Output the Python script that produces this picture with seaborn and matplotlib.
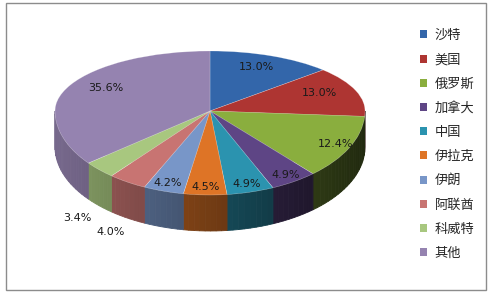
import numpy as np
import matplotlib
matplotlib.use("Agg")
import matplotlib.pyplot as plt
from matplotlib.patches import Rectangle, Polygon
from matplotlib.transforms import Affine2D
import matplotlib.colors as mcolors
import seaborn as sns

# ---- data ----
categories = ["沙特", "美国", "俄罗斯", "加拿大", "中国", "伊拉克", "伊朗", "阿联酋", "科威特", "其他"]
shares = [13.0, 13.0, 12.4, 4.9, 4.9, 4.5, 4.2, 4.0, 3.4, 35.6]
pct_labels = ["13.0%", "13.0%", "12.4%", "4.9%", "4.9%", "4.5%", "4.2%", "4.0%", "3.4%", "35.6%"]
outside = [False, False, False, False, False, False, False, True, True, False]
colors = ["#3366AA", "#AE3532", "#8AAE3E", "#5E4585", "#2B93AF",
          "#DE7426", "#7896C8", "#C87472", "#A8C77F", "#9583B0"]

sns.set_theme(style="white")
plt.rcParams["font.family"] = ["Noto Sans CJK SC", "DejaVu Sans"]
palette = sns.color_palette(colors)

W, H = 490, 295
fig = plt.figure(figsize=(W / 100, H / 100), dpi=100)
ax = fig.add_axes([0, 0, 1, 1])

# geometry (pixel-derived)
cx_px, cy_px, rx_px = 210, 111, 155
k_up, k_down = 60 / rx_px, 84 / rx_px
depth = 36 / rx_px

t_up = Affine2D().scale(1, k_up) + ax.transData
t_dn = Affine2D().scale(1, k_down) + ax.transData

# upper (full) pie
wedges_up, _ = ax.pie(shares, colors=palette, startangle=90, counterclock=False,
                      radius=1, wedgeprops=dict(linewidth=0.4, edgecolor=(1, 1, 1, 0.35)),
                      frame=True)
for w in wedges_up:
    w.set_transform(t_up)
    w.set_zorder(3)
# lower half pie (perspective: front half deeper)
wedges_dn, _ = ax.pie(shares, colors=palette, startangle=90, counterclock=False,
                      radius=1, wedgeprops=dict(linewidth=0.4, edgecolor=(1, 1, 1, 0.35)),
                      frame=True)
clip = Polygon([(-3, 0), (3, 0), (3, -3), (-3, -3)], closed=True, transform=ax.transData)
for w in wedges_dn:
    w.set_transform(t_dn)
    w.set_zorder(4)
    w.set_clip_on(True)
    w.set_clip_path(clip)

ax.set_xlim(-cx_px / rx_px, (W - cx_px) / rx_px)
ax.set_ylim(-(H - cy_px) / rx_px, cy_px / rx_px)
ax.set_aspect("auto")
ax.axis("off")

# side walls (visible front half)
def front_intervals(a, b):
    out = []
    for k in range(-2, 3):
        lo, hi = 180 + 360 * k, 360 + 360 * k
        s, e = max(a, lo), min(b, hi)
        if e > s:
            out.append((s, e))
    return out

for w, col in zip(wedges_up, palette):
    base = np.array(mcolors.to_rgb(col))
    for s, e in front_intervals(w.theta1, w.theta2):
        n = max(2, int((e - s) / 2) + 1)
        ts = np.linspace(s, e, n)
        for t0, t1 in zip(ts[:-1], ts[1:]):
            tm = np.deg2rad((t0 + t1) / 2)
            f = 0.52 - 0.28 * np.cos(tm)
            c = np.clip(base * f, 0, 1)
            a0, a1 = np.deg2rad(t0), np.deg2rad(t1)
            pts = [(np.cos(a0), k_down * np.sin(a0)), (np.cos(a1), k_down * np.sin(a1)),
                   (np.cos(a1), k_down * np.sin(a1) - depth), (np.cos(a0), k_down * np.sin(a0) - depth)]
            ax.add_patch(Polygon(pts, closed=True, facecolor=c, edgecolor=c, linewidth=0.6, zorder=2))

# percentage labels
for w, lab, out in zip(wedges_up, pct_labels, outside):
    th = np.deg2rad((w.theta1 + w.theta2) / 2)
    if out:
        r = 1.2
        x, y = r * np.cos(th), k_down * r * np.sin(th) - depth
    else:
        if np.sin(th) > 0:
            r = 0.75
            x, y = r * np.cos(th), k_up * r * np.sin(th) + 0.02
        else:
            r = 0.9
            x, y = r * np.cos(th), k_down * r * np.sin(th)
    ax.text(x, y, lab, ha="center", va="center", fontsize=8, color="#1a1a1a",
            family=["DejaVu Sans"], zorder=6)

# legend
leg = ax.legend(wedges_up, categories, loc="upper left", bbox_to_anchor=(420 / W, 1 - 29 / H),
                bbox_transform=fig.transFigure, frameon=False, fontsize=9.5,
                handlelength=0.55, handleheight=0.55, handletextpad=0.55, labelspacing=0.85,
                borderaxespad=0, borderpad=0)
for h in leg.legend_handles:
    h.set_edgecolor("none")

# outer border
fig.patches.append(Rectangle((6 / W, 5 / H), 480 / W, 287 / H, transform=fig.transFigure,
                             fill=False, edgecolor="#8c8c8c", linewidth=1.0))

fig.savefig("out.png", dpi=100)
